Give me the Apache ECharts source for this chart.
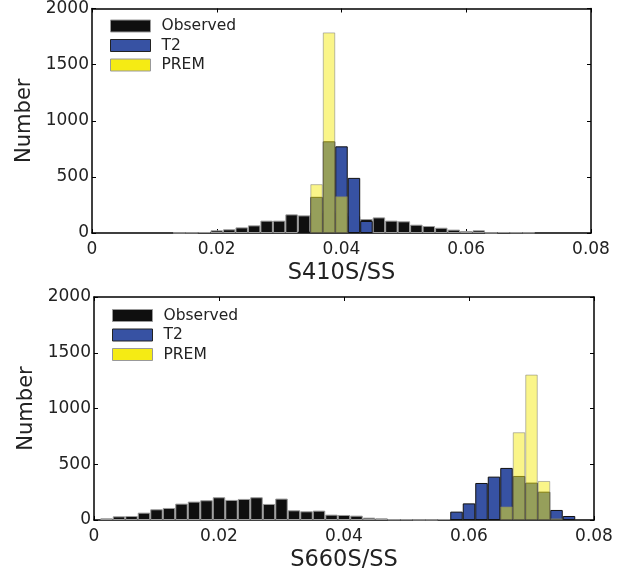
<!DOCTYPE html>
<html>
<head>
<meta charset="utf-8">
<script src="https://cdn.jsdelivr.net/npm/echarts@6/dist/echarts.min.js"></script>
<style>
html,body{margin:0;padding:0;background:#fff;}
#chart{width:624px;height:576px;}
</style>
</head>
<body>
<div id="chart"></div>
<script>
// Bin centres (histogram bins of width 0.002)
const binCenters = [0,0.002,0.004,0.006,0.008,0.010,0.012,0.014,0.016,0.018,
  0.020,0.022,0.024,0.026,0.028,0.030,0.032,0.034,0.036,0.038,
  0.040,0.042,0.044,0.046,0.048,0.050,0.052,0.054,0.056,0.058,
  0.060,0.062,0.064,0.066,0.068,0.070,0.072,0.074,0.076,0.078,0.080];

// Panel 1: S410S/SS
const obs410  = [0,0,0,0,0,0,0,2,4,9,24,33,50,68,110,110,166,157,180,200,180,150,124,139,110,104,74,62,47,30,18,24,3,9,6,4,0,0,0,0,0];
const t2_410  = [0,0,0,0,0,0,0,0,0,0,0,0,0,0,0,0,0,12,322,817,772,491,107,0,0,0,0,0,0,0,0,0,0,0,0,0,0,0,0,0,0];
const prem410 = [0,0,0,0,0,0,0,0,0,0,0,0,0,0,0,0,0,0,435,1787,328,0,0,0,0,0,0,0,0,0,0,0,0,0,0,0,0,0,0,0,0];

// Panel 2: S660S/SS
const obs660  = [0,15,33,36,66,96,108,147,165,177,204,180,189,204,144,192,87,78,84,48,45,39,21,15,6,6,3,3,9,0,0,0,0,0,0,0,0,0,0,0,0];
const t2_660  = [0,0,0,0,0,0,0,0,0,0,0,0,0,0,0,0,0,0,0,0,0,0,0,0,0,0,0,0,0,75,149,332,389,467,395,335,254,90,36,0,0];
const prem660 = [0,0,0,0,0,0,0,0,0,0,0,0,0,0,0,0,0,0,0,0,0,0,0,0,0,0,0,0,0,0,0,0,0,122,787,1304,350,15,0,0,0];

const xTicks = [0, 0.02, 0.04, 0.06, 0.08];
const yTicks = [0, 500, 1000, 1500, 2000];
const seriesNames = ['Observed', 'T2', 'PREM'];
const xTitles = ['S410S/SS', 'S660S/SS'];
const yTitle = 'Number';

const FONT = 'DejaVu Sans';
const grids = [
  {left: 92, top: 8.5, width: 499, height: 224.5},
  {left: 94, top: 297, width: 500, height: 223}
];
const legendPos = [{left: 110, top: 18}, {left: 112, top: 307.5}];

const colObs = '#0f0f0f', colT2 = '#3752a3', colPrem = '#f5eb14';

function pairs(vals){ return binCenters.map((x,i)=>[x, vals[i]]).filter(p=>p[1]>0); }

const xAxes = [], yAxes = [], series = [], legends = [];
const panels = [[obs410,t2_410,prem410],[obs660,t2_660,prem660]];
const fmtX = v => { const s = xTicks.find(t=>Math.abs(t-v)<1e-9); return s===0 ? '0' : (s!==undefined ? s.toFixed(2) : ''); };
const fmtY = v => { const s = yTicks.find(t=>Math.abs(t-v)<1e-6); return s!==undefined ? String(s) : ''; };

grids.forEach((g, gi) => {
  const axisLine = {show:true, onZero:false, lineStyle:{color:'#000', width:1.5}};
  const tick = {show:true, inside:true, length:4, lineStyle:{color:'#000', width:1}};
  xAxes.push({gridIndex:gi, type:'value', min:0, max:0.08, interval:0.02, position:'bottom',
    axisLine, axisTick:tick, splitLine:{show:false},
    axisLabel:{formatter: fmtX, fontFamily:FONT, fontSize:17, color:'#222', margin:8},
    name: xTitles[gi], nameLocation:'middle', nameGap:29,
    nameTextStyle:{fontFamily:FONT, fontSize:22.5, color:'#222'}});
  xAxes.push({gridIndex:gi, type:'value', min:0, max:0.08, interval:0.02, position:'top',
    axisLine, axisTick:tick, axisLabel:{show:false}, splitLine:{show:false}});
  yAxes.push({gridIndex:gi, type:'value', min:0, max:2000, interval:500, position:'left',
    axisLine, axisTick:tick, splitLine:{show:false},
    axisLabel:{formatter: fmtY, fontFamily:FONT, fontSize:17, color:'#222', margin:3},
    name: yTitle, nameLocation:'middle', nameGap:56,
    nameTextStyle:{fontFamily:FONT, fontSize:21, color:'#222'}});
  yAxes.push({gridIndex:gi, type:'value', min:0, max:2000, interval:500, position:'right',
    axisLine, axisTick:tick, axisLabel:{show:false}, splitLine:{show:false}});

  const bw = g.width / 40;
  const [o, t, p] = panels[gi];
  const common = {type:'bar', xAxisIndex: gi*2, yAxisIndex: gi*2, barWidth: bw, barGap:'-100%', animation:false};
  series.push(Object.assign({}, common, {name: seriesNames[0], data: pairs(o),
    itemStyle:{color:colObs, borderColor:'#9a9a9a', borderWidth:1}}));
  series.push(Object.assign({}, common, {name: seriesNames[1], data: pairs(t),
    itemStyle:{color:colT2, borderColor:'#111', borderWidth:1}}));
  series.push(Object.assign({}, common, {name: seriesNames[2], data: pairs(p),
    itemStyle:{color:colPrem, opacity:0.5, borderColor:'#777', borderWidth:1}}));

  legends.push({
    left: legendPos[gi].left, top: legendPos[gi].top, orient:'vertical', padding:0,
    itemWidth:40, itemHeight:12, itemGap:3.5, selectedMode:false,
    textStyle:{fontFamily:FONT, fontSize:15.5, color:'#222', lineHeight:12, padding:[0,0,0,6]},
    data:[
      {name:'Observed', icon:'rect', itemStyle:{color:colObs, borderColor:'#999', borderWidth:1, opacity:1}},
      {name:'T2', icon:'rect', itemStyle:{color:colT2, borderColor:'#222', borderWidth:1, opacity:1}},
      {name:'PREM', icon:'rect', itemStyle:{color:colPrem, borderColor:'#999', borderWidth:1, opacity:1}}
    ]
  });
});

const chart = echarts.init(document.getElementById('chart'), null, {renderer:'canvas'});
chart.setOption({
  backgroundColor:'#fff',
  animation:false,
  grid: grids,
  xAxis: xAxes,
  yAxis: yAxes,
  legend: legends,
  series: series
});
</script>
</body>
</html>
